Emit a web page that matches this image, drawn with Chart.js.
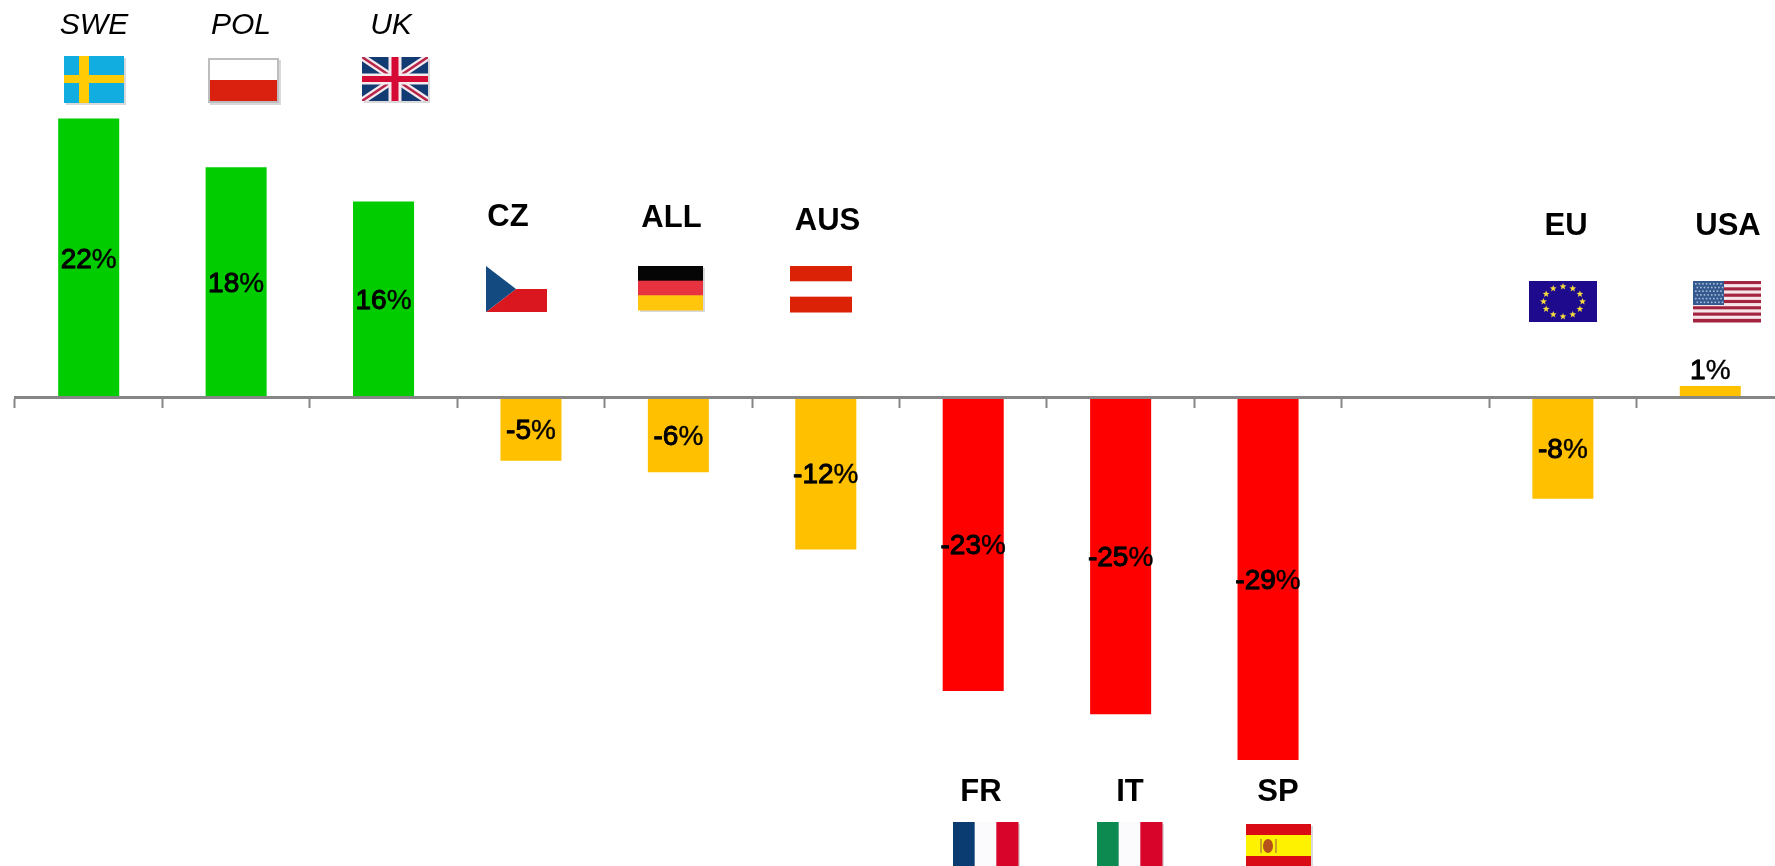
<!DOCTYPE html>
<html>
<head>
<meta charset="utf-8">
<title>Country chart</title>
<script src="https://cdn.jsdelivr.net/npm/chart.js@4/dist/chart.umd.min.js"></script>
<style>
  html, body { margin: 0; padding: 0; background: #fff; overflow: hidden; width: 1775px; height: 866px; }
  canvas { display: block; }
</style>
</head>
<body>
<!-- the last category runs past the right edge of the window, as in the original -->
<canvas id="chart" width="1784" height="866"></canvas>
<script>
const categories = ["SWE", "POL", "UK", "CZ", "ALL", "AUS", "FR", "IT", "SP", "", "EU", "USA"];
const values = [22, 18.15, 15.45, -5, -5.9, -12, -23.15, -25, -28.6, null, -8, 0.9];
const valueLabels = ["22", "18", "16", "-5", "-6", "-12", "-23", "-25", "-29", "", "-8", "1"];
const barColors = ["#00CC00", "#00CC00", "#00CC00", "#FFC000", "#FFC000", "#FFC000", "#FF0000", "#FF0000", "#FF0000", "#FFC000", "#FFC000", "#FFC000"];

// country names sit where they were pasted on the slide, not on the axis
const namePlaces = [
  { text: "SWE", x: 94, y: 25.5, italic: true },
  { text: "POL", x: 241, y: 25.5, italic: true },
  { text: "UK", x: 391, y: 25.5, italic: true },
  { text: "CZ", x: 508, y: 217 },
  { text: "ALL", x: 671.5, y: 218.5 },
  { text: "AUS", x: 827.5, y: 221 },
  { text: "FR", x: 981, y: 792 },
  { text: "IT", x: 1130, y: 792 },
  { text: "SP", x: 1278, y: 792 },
  { text: "EU", x: 1566, y: 226 },
  { text: "USA", x: 1728, y: 226 }
];

const flagPlaces = [
  { draw: sweden, x: 64, y: 56, w: 60, h: 47 },
  { draw: poland, x: 208, y: 58, w: 71, h: 45 },
  { draw: britain, x: 362, y: 57, w: 66, h: 44 },
  { draw: czech, x: 486, y: 266, w: 61, h: 46 },
  { draw: germany, x: 638, y: 266, w: 65, h: 44 },
  { draw: austria, x: 790, y: 266, w: 62, h: 46 },
  { draw: france, x: 953, y: 822, w: 65, h: 44 },
  { draw: italy, x: 1097, y: 822, w: 65, h: 44 },
  { draw: spain, x: 1246, y: 824, w: 65, h: 43 },
  { draw: europe, x: 1529, y: 281, w: 68, h: 41 },
  { draw: usa, x: 1693, y: 281, w: 68, h: 41 }
];

function stripesV(c, f, colors) {
  colors.forEach((col, i) => {
    c.fillStyle = col;
    c.fillRect(f.x + f.w * i / colors.length, f.y, f.w / colors.length + 0.5, f.h);
  });
}

function stripesH(c, f, colors) {
  colors.forEach((col, i) => {
    c.fillStyle = col;
    c.fillRect(f.x, f.y + f.h * i / colors.length, f.w, f.h / colors.length + 0.5);
  });
}

function sweden(c, f) {
  c.fillStyle = "#12ADE0";
  c.fillRect(f.x, f.y, f.w, f.h);
  c.fillStyle = "#FFCB05";
  c.fillRect(f.x + 15, f.y, 10, f.h);
  c.fillRect(f.x, f.y + 19, f.w, 8);
}

function poland(c, f) {
  c.fillStyle = "#BDBDBD";
  c.fillRect(f.x, f.y, f.w, f.h);
  c.fillStyle = "#fff";
  c.fillRect(f.x + 2, f.y + 2, f.w - 4, 20);
  c.fillStyle = "#DA2110";
  c.fillRect(f.x + 2, f.y + 22, f.w - 4, f.h - 24);
}

function britain(c, f) {
  c.save();
  c.beginPath();
  c.rect(f.x, f.y, f.w, f.h);
  c.clip();
  c.fillStyle = "#123A73";
  c.fillRect(f.x, f.y, f.w, f.h);
  const diag = (col, width) => {
    c.strokeStyle = col;
    c.lineWidth = width;
    c.beginPath();
    c.moveTo(f.x, f.y);
    c.lineTo(f.x + f.w, f.y + f.h);
    c.moveTo(f.x + f.w, f.y);
    c.lineTo(f.x, f.y + f.h);
    c.stroke();
  };
  diag("#F4E9EC", 7);
  diag("#B8244A", 2.5);
  c.fillStyle = "#F4E9EC";
  c.fillRect(f.x + f.w / 2 - 6.5, f.y, 13, f.h);
  c.fillRect(f.x, f.y + f.h / 2 - 5.5, f.w, 11);
  c.fillStyle = "#D50A35";
  c.fillRect(f.x + f.w / 2 - 3.5, f.y, 7, f.h);
  c.fillRect(f.x, f.y + f.h / 2 - 3, f.w, 6);
  c.restore();
}

function czech(c, f) {
  c.fillStyle = "#DA161E";
  c.beginPath();
  c.moveTo(f.x, f.y + f.h);
  c.lineTo(f.x + 30, f.y + f.h / 2);
  c.lineTo(f.x + f.w, f.y + f.h / 2);
  c.lineTo(f.x + f.w, f.y + f.h);
  c.fill();
  c.fillStyle = "#134A80";
  c.beginPath();
  c.moveTo(f.x, f.y);
  c.lineTo(f.x + 30, f.y + f.h / 2);
  c.lineTo(f.x, f.y + f.h);
  c.fill();
}

function germany(c, f) {
  stripesH(c, f, ["#050505", "#E8323F", "#FFC60B"]);
}

function austria(c, f) {
  stripesH(c, f, ["#DB2207", "#fff", "#DB2207"]);
}

function france(c, f) {
  stripesV(c, f, ["#0A3C72", "#FBFBFD", "#D8042A"]);
}

function italy(c, f) {
  stripesV(c, f, ["#0C8A50", "#FBFBFD", "#D8042A"]);
}

function spain(c, f) {
  c.fillStyle = "#D90B14";
  c.fillRect(f.x, f.y, f.w, f.h);
  c.fillStyle = "#FFF200";
  c.fillRect(f.x, f.y + 11, f.w, 21);
  c.fillStyle = "#B5521C";
  c.beginPath();
  c.ellipse(f.x + 22, f.y + 22, 5, 7, 0, 0, Math.PI * 2);
  c.fill();
  c.fillStyle = "#C9A227";
  c.fillRect(f.x + 14, f.y + 15, 2, 14);
  c.fillRect(f.x + 29, f.y + 15, 2, 14);
}

function star(c, x, y, r) {
  c.beginPath();
  for (let i = 0; i < 10; i++) {
    const a = -Math.PI / 2 + i * Math.PI / 5;
    const d = i % 2 ? r * 0.42 : r;
    c.lineTo(x + d * Math.cos(a), y + d * Math.sin(a));
  }
  c.closePath();
  c.fill();
}

function europe(c, f) {
  c.fillStyle = "#1D0A8C";
  c.fillRect(f.x, f.y, f.w, f.h);
  c.fillStyle = "#F5DC3C";
  for (let i = 0; i < 12; i++) {
    const a = i * Math.PI / 6;
    star(c, f.x + f.w / 2 + 19.5 * Math.cos(a), f.y + f.h / 2 + 15 * Math.sin(a), 3.6);
  }
}

function usa(c, f) {
  for (let i = 0; i < 13; i++) {
    c.fillStyle = i % 2 ? "#F6E6EA" : "#A3243F";
    c.fillRect(f.x, f.y + f.h * i / 13, f.w, f.h / 13 + 0.5);
  }
  c.fillStyle = "#34598F";
  c.fillRect(f.x, f.y, 31, 24);
  c.fillStyle = "#A9BEDA";
  for (let row = 0; row < 6; row++) {
    for (let col = 0; col < 8; col++) {
      c.fillRect(f.x + 2 + col * 3.6 + (row % 2) * 1.5, f.y + 2 + row * 3.7, 1.6, 1.6);
    }
  }
}

const slideExtras = {
  id: "slideExtras",
  afterDraw(chart) {
    const c = chart.ctx;
    c.save();

    flagPlaces.forEach(f => {
      c.save();
      c.fillStyle = "rgba(120,120,130,0.28)";
      if (f.draw !== czech && f.draw !== austria && f.draw !== europe && f.draw !== usa) {
        c.fillRect(f.x + 2, f.y + 2, f.w, f.h);
      }
      f.draw(c, f);
      c.restore();
    });

    c.fillStyle = "#000";
    c.textAlign = "center";
    c.textBaseline = "middle";
    namePlaces.forEach(n => {
      c.font = n.italic ? "italic 30px 'Liberation Sans'" : "bold 31px 'Liberation Sans'";
      c.fillText(n.text, n.x, n.y);
    });

    // value labels, centred in the bar, except the tiny USA bar.
    // the digits look heavier than the % sign in the original
    const bars = chart.getDatasetMeta(0).data;
    c.font = "28px 'Liberation Sans'";
    c.textAlign = "left";
    c.strokeStyle = "#000";
    values.forEach((v, i) => {
      if (v === null) return;
      const bar = bars[i];
      const text = valueLabels[i] + "%";
      const x = bar.x - c.measureText(text).width / 2;
      const y = (Math.abs(v) < 2 ? bar.y - 15 : (bar.y + bar.base) / 2 + 1.5);
      c.fillText(text, x, y);
      c.lineWidth = 0.4;
      c.strokeText(text, x, y);
      c.lineWidth = 0.9;
      c.strokeText(valueLabels[i], x, y);
    });
    c.restore();
  }
};

new Chart(document.getElementById("chart"), {
  type: "bar",
  data: {
    labels: categories,
    datasets: [{
      data: values,
      backgroundColor: barColors,
      base: -0.1,
      barPercentage: 0.414,
      categoryPercentage: 1
    }]
  },
  options: {
    responsive: false,
    animation: false,
    layout: { padding: { left: 15, right: 0, top: 0, bottom: 0 } },
    plugins: { legend: { display: false }, tooltip: { enabled: false }, title: { display: false } },
    scales: {
      x: {
        position: { y: 0 },
        ticks: { display: false },
        border: { color: "#868686", width: 3, z: 2 },
        grid: { drawOnChartArea: false, drawTicks: true, tickLength: 9, tickWidth: 2, tickColor: "#868686", offset: true, z: 2 }
      },
      y: {
        display: false,
        min: -36.96,
        max: 31.34
      }
    }
  },
  plugins: [slideExtras]
});
</script>
</body>
</html>
